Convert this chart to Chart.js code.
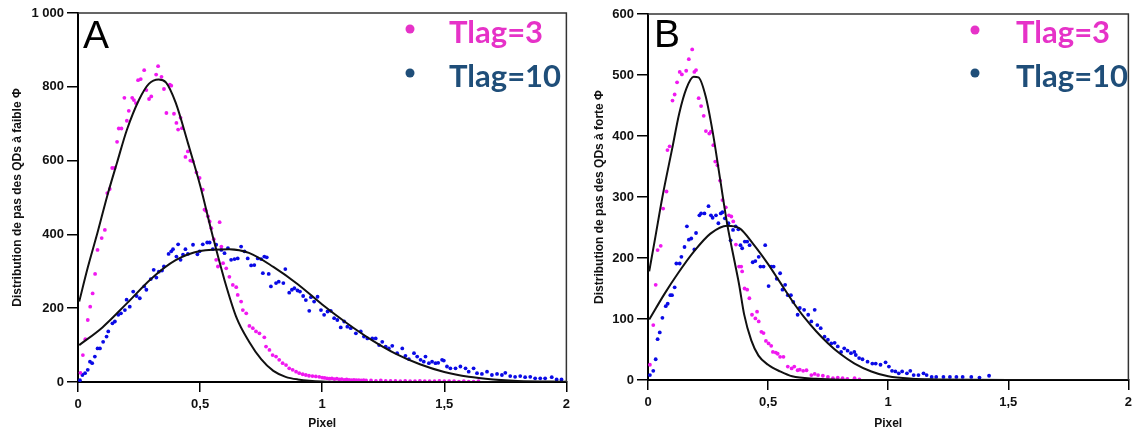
<!DOCTYPE html>
<html>
<head>
<meta charset="utf-8">
<script src="https://cdn.jsdelivr.net/npm/chart.js@4.4.0/dist/chart.umd.min.js"></script>
<style>
  body { margin: 0; background: #fff; }
  #wrap { position: relative; width: 1137px; height: 432px; }
  canvas { position: absolute; top: 0; }
</style>
</head>
<body>
<div id="wrap">
  <canvas id="chartA" width="575" height="432" style="left:0"></canvas>
  <canvas id="chartB" width="562" height="432" style="left:575px"></canvas>
</div>
<script>
// x = pas (pixel), y = distribution
const tlag3A = [[0.01,25],[0.02,73],[0.03,116],[0.04,168],[0.05,204],[0.06,240],[0.07,293],[0.08,358],[0.097,390],[0.11,412],[0.12,512],[0.13,523],[0.14,580],[0.15,580],[0.16,651],[0.167,687],[0.178,687],[0.19,770],[0.2,708],[0.208,735],[0.222,770],[0.229,764],[0.237,756],[0.246,818],[0.257,821],[0.271,845],[0.28,791],[0.291,767],[0.3,774],[0.32,833],[0.328,856],[0.342,827],[0.352,794],[0.362,729],[0.376,806],[0.382,803],[0.393,727],[0.403,702],[0.41,684],[0.42,716],[0.426,688],[0.44,610],[0.45,625],[0.46,600],[0.47,598],[0.485,568],[0.498,553],[0.511,521],[0.518,467],[0.524,464],[0.532,449],[0.539,435],[0.546,417],[0.556,387],[0.566,331],[0.573,313],[0.58,433],[0.587,367],[0.594,322],[0.607,308],[0.62,285],[0.634,263],[0.648,257],[0.654,236],[0.668,218],[0.675,195],[0.689,186],[0.702,152],[0.716,146],[0.729,137],[0.743,132],[0.763,121],[0.77,96],[0.784,87],[0.797,73],[0.811,69],[0.824,60],[0.838,51],[0.852,46],[0.865,37],[0.879,33],[0.893,28],[0.906,24],[0.92,21],[0.933,19],[0.946,17],[0.96,16],[0.974,15],[0.988,14],[1.0,12],[1.01,11],[1.02,10],[1.03,9],[1.04,10],[1.05,8],[1.06,9],[1.07,7],[1.08,8],[1.09,6],[1.1,7],[1.11,6],[1.12,5],[1.13,6],[1.14,5],[1.15,5],[1.16,4],[1.17,5],[1.18,4],[1.2,4],[1.22,3],[1.24,4],[1.26,3],[1.28,3],[1.3,3],[1.32,2],[1.34,3],[1.36,2],[1.38,2],[1.4,3],[1.42,2],[1.44,2],[1.46,2],[1.48,3],[1.5,2],[1.52,2],[1.54,2],[1.56,1],[1.58,2],[1.6,1],[1.62,1],[1.64,2]];

const tlag10A = [[0.008,5],[0.018,19],[0.029,24],[0.04,33],[0.049,55],[0.058,51],[0.069,69],[0.08,91],[0.09,91],[0.103,109],[0.117,123],[0.124,137],[0.141,159],[0.151,164],[0.165,182],[0.176,186],[0.192,195],[0.199,223],[0.212,204],[0.226,245],[0.24,233],[0.253,227],[0.271,259],[0.28,250],[0.298,279],[0.31,304],[0.321,283],[0.331,299],[0.344,302],[0.352,313],[0.371,347],[0.382,354],[0.389,360],[0.403,340],[0.41,373],[0.42,331],[0.43,345],[0.44,360],[0.45,347],[0.471,372],[0.489,346],[0.498,354],[0.511,373],[0.529,378],[0.539,378],[0.552,360],[0.566,372],[0.587,358],[0.6,349],[0.614,363],[0.627,331],[0.641,333],[0.654,335],[0.668,367],[0.682,354],[0.695,335],[0.709,316],[0.722,317],[0.736,335],[0.75,333],[0.757,295],[0.763,340],[0.773,338],[0.781,293],[0.79,259],[0.811,268],[0.822,272],[0.841,268],[0.849,306],[0.865,242],[0.876,250],[0.886,254],[0.899,248],[0.909,245],[0.922,233],[0.933,222],[0.947,193],[0.954,230],[0.967,218],[0.981,231],[0.995,195],[1.008,182],[1.022,191],[1.035,193],[1.049,173],[1.062,168],[1.076,148],[1.09,164],[1.103,150],[1.117,146],[1.138,132],[1.158,137],[1.171,123],[1.185,118],[1.205,118],[1.219,118],[1.233,100],[1.246,109],[1.26,96],[1.273,91],[1.287,98],[1.307,78],[1.328,91],[1.341,71],[1.355,62],[1.376,78],[1.389,69],[1.403,60],[1.416,55],[1.423,69],[1.437,51],[1.45,55],[1.464,51],[1.475,52],[1.491,60],[1.498,58],[1.511,42],[1.525,37],[1.546,37],[1.566,42],[1.587,37],[1.6,28],[1.62,37],[1.634,24],[1.654,22],[1.675,28],[1.695,19],[1.716,22],[1.736,19],[1.75,25],[1.77,16],[1.79,14],[1.811,16],[1.831,13],[1.852,14],[1.872,10],[1.893,10],[1.913,10],[1.94,13],[1.96,7],[1.98,7]];

const tlag3B = [[0.008,25],[0.022,90],[0.032,156],[0.04,213],[0.053,220],[0.063,281],[0.077,309],[0.081,377],[0.09,383],[0.102,458],[0.111,468],[0.121,488],[0.132,505],[0.141,501],[0.159,507],[0.17,526],[0.184,542],[0.193,505],[0.2,508],[0.211,462],[0.221,449],[0.232,433],[0.241,408],[0.255,404],[0.262,407],[0.272,385],[0.28,358],[0.289,352],[0.3,327],[0.31,295],[0.324,283],[0.337,270],[0.347,268],[0.355,260],[0.366,222],[0.379,186],[0.388,186],[0.392,178],[0.402,150],[0.413,148],[0.422,134],[0.433,107],[0.447,101],[0.454,112],[0.461,96],[0.472,79],[0.481,77],[0.491,64],[0.502,60],[0.513,56],[0.52,46],[0.532,45],[0.54,43],[0.55,38],[0.564,38],[0.582,22],[0.598,19],[0.609,22],[0.623,16],[0.632,17],[0.646,15],[0.66,16],[0.68,8],[0.694,10],[0.708,8],[0.728,7],[0.749,5],[0.77,3],[0.79,4],[0.81,3],[0.83,2],[0.86,3],[0.88,1]];

const tlag10B = [[0.008,8],[0.022,15],[0.032,34],[0.04,67],[0.049,78],[0.06,102],[0.074,121],[0.082,125],[0.093,139],[0.1,139],[0.111,152],[0.118,191],[0.132,191],[0.139,202],[0.152,218],[0.162,252],[0.17,230],[0.18,232],[0.193,214],[0.2,241],[0.214,270],[0.221,273],[0.235,273],[0.252,285],[0.262,270],[0.269,266],[0.283,270],[0.293,257],[0.303,273],[0.31,275],[0.32,265],[0.335,257],[0.344,229],[0.354,246],[0.365,252],[0.376,247],[0.385,221],[0.392,216],[0.403,227],[0.413,227],[0.423,221],[0.436,193],[0.447,195],[0.461,202],[0.468,186],[0.481,186],[0.488,221],[0.502,154],[0.513,186],[0.523,186],[0.536,166],[0.55,175],[0.56,148],[0.571,156],[0.582,139],[0.595,139],[0.605,128],[0.623,107],[0.632,118],[0.65,115],[0.667,107],[0.68,96],[0.694,115],[0.705,90],[0.719,85],[0.735,71],[0.749,66],[0.763,60],[0.777,61],[0.79,55],[0.804,46],[0.817,52],[0.831,48],[0.845,44],[0.859,46],[0.865,41],[0.879,36],[0.893,34],[0.914,30],[0.934,27],[0.948,27],[0.968,25],[0.989,29],[1.003,22],[1.016,15],[1.03,14],[1.044,11],[1.058,14],[1.078,11],[1.092,15],[1.106,8],[1.126,8],[1.147,11],[1.16,8],[1.181,5],[1.2,5],[1.23,5],[1.257,5],[1.284,5],[1.31,5],[1.346,5],[1.38,4],[1.42,7]];

// courbes ajustées (points lus le long des traits noirs)
const fit3A = [[0.005,218],[0.04,310],[0.08,405],[0.12,505],[0.16,595],[0.2,683],[0.25,765],[0.29,808],[0.33,820],[0.36,812],[0.4,757],[0.45,648],[0.5,533],[0.55,400],[0.6,276],[0.65,173],[0.7,110],[0.75,62],[0.8,30],[0.85,14],[0.9,7],[1.0,1.5],[1.2,0],[2.0,0]];
const fit10A = [[0.005,100],[0.1,148],[0.2,213],[0.3,280],[0.4,330],[0.5,355],[0.62,360],[0.7,350],[0.8,312],[0.9,265],[1.0,210],[1.1,160],[1.2,115],[1.3,77],[1.4,48],[1.5,27],[1.6,14],[1.7,7],[1.8,3],[2.0,1]];
const fit3B = [[0.005,178],[0.03,233],[0.06,300],[0.1,378],[0.13,437],[0.16,478],[0.19,497],[0.21,496],[0.24,465],[0.27,405],[0.3,330],[0.33,255],[0.36,195],[0.38,155],[0.4,108],[0.43,65],[0.46,40],[0.5,25],[0.55,14],[0.6,6],[0.7,2],[0.8,0.5],[1.0,0],[2.0,0]];
const fit10B = [[0.005,99],[0.07,142],[0.125,175],[0.19,210],[0.26,240],[0.33,253],[0.38,249],[0.44,222],[0.5,190],[0.55,160],[0.6,130],[0.65,103],[0.7,80],[0.75,60],[0.8,43],[0.86,27],[0.93,14],[1.0,6],[1.1,2],[1.2,1],[1.5,0],[2.0,0]];

const xTickLabels = ['0', '0,5', '1', '1,5', '2'];
const yTickLabelsA = ['0', '200', '400', '600', '800', '1 000'];
const yTickLabelsB = ['0', '100', '200', '300', '400', '500', '600'];
const legendLabels = ['Tlag=3', 'Tlag=10'];

const toXY = arr => arr.map(p => ({ x: p[0], y: p[1] }));

// cadre haut/droite, lettre du panneau, légende
const panelDeco = {
    id: 'panelDeco',
    afterDraw(chart, args, o) {
        const { ctx, chartArea: a } = chart;
        ctx.save();
        ctx.strokeStyle = '#333';
        ctx.lineWidth = 1.5;
        ctx.beginPath();
        ctx.moveTo(a.left, a.top);
        ctx.lineTo(a.right, a.top);
        ctx.lineTo(a.right, a.bottom);
        ctx.stroke();

        ctx.fillStyle = '#000';
        ctx.font = '39px "Liberation Sans", Arial, sans-serif';
        ctx.textBaseline = 'alphabetic';
        ctx.fillText(o.letter, o.letterX, o.letterY);

        const cols = ['#e632c8', '#1f4e79'];
        ctx.font = 'bold 31px Lato, "Open Sans", sans-serif';
        legendLabels.forEach((lab, i) => {
            ctx.fillStyle = cols[i];
            ctx.beginPath();
            ctx.arc(o.dotX, o.dotY[i], 4.5, 0, Math.PI * 2);
            ctx.fill();
            ctx.fillText(lab, o.textX, o.textY[i]);
        });
        ctx.restore();
    }
};

function makeChart(id, pts3, pts10, f3, f10, yMax, yStep, yLabels, yTitle, dims, deco) {
    const tickFont = { family: '"Liberation Sans", Arial, sans-serif', size: 13, weight: 'bold' };
    const titleFont = { family: '"Liberation Sans", Arial, sans-serif', size: 12, weight: 'bold' };
    return new Chart(document.getElementById(id), {
        type: 'scatter',
        data: {
            datasets: [
                { type: 'line', data: toXY(f3), borderColor: '#111', borderWidth: 2, pointRadius: 0, cubicInterpolationMode: 'monotone', order: 0 },
                { type: 'line', data: toXY(f10), borderColor: '#111', borderWidth: 2, pointRadius: 0, cubicInterpolationMode: 'monotone', order: 0 },
                { data: toXY(pts3), backgroundColor: '#f018f0', borderWidth: 0, pointRadius: 1.9, order: 1 },
                { data: toXY(pts10), backgroundColor: '#0a0ae6', borderWidth: 0, pointRadius: 1.9, order: 1 }
            ]
        },
        options: {
            responsive: false,
            animation: false,
            layout: { padding: { top: dims.top, right: dims.right, left: 0, bottom: 0 } },
            plugins: { legend: { display: false }, tooltip: { enabled: false }, panelDeco: deco },
            scales: {
                x: {
                    type: 'linear', min: 0, max: 2,
                    afterFit: s => { s.height = dims.xh; },
                    ticks: { stepSize: 0.5, color: '#111', font: tickFont, padding: 5, maxRotation: 0,
                        callback: (v, i) => xTickLabels[i] },
                    grid: { drawOnChartArea: false, drawTicks: true, tickLength: 10, color: '#000', lineWidth: 1.5 },
                    border: { display: true, color: '#000', width: 2 },
                    title: { display: true, text: 'Pixel', color: '#111', font: titleFont, padding: { top: 0, bottom: 1 } }
                },
                y: {
                    min: 0, max: yMax,
                    afterFit: s => { s.width = dims.yw; },
                    ticks: { stepSize: yStep, color: '#111', font: tickFont, padding: 3,
                        callback: (v, i) => yLabels[i] },
                    grid: { drawOnChartArea: false, drawTicks: true, tickLength: 11, color: '#000', lineWidth: 1.5 },
                    border: { display: true, color: '#000', width: 2 },
                    title: { display: true, text: yTitle, color: '#111', font: titleFont, padding: { top: dims.tpad, bottom: 0 } }
                }
            }
        },
        plugins: [panelDeco]
    });
}

makeChart('chartA', tlag3A, tlag10A, fit3A, fit10A, 1000, 200, yTickLabelsA,
    'Distribution de pas des QDs à faible Φ',
    { top: 13, right: 7, xh: 50, yw: 78, tpad: 10 },
    { letter: 'A', letterX: 83, letterY: 48, dotX: 410, dotY: [29, 73], textX: 449, textY: [43, 87] });

makeChart('chartB', tlag3B, tlag10B, fit3B, fit10B, 600, 100, yTickLabelsB,
    'Distribution de pas des QDs à forte Φ',
    { top: 14, right: 4, xh: 52, yw: 73, tpad: 17 },
    { letter: 'B', letterX: 79, letterY: 47, dotX: 400, dotY: [30, 73], textX: 441, textY: [43, 87] });
</script>
</body>
</html>
